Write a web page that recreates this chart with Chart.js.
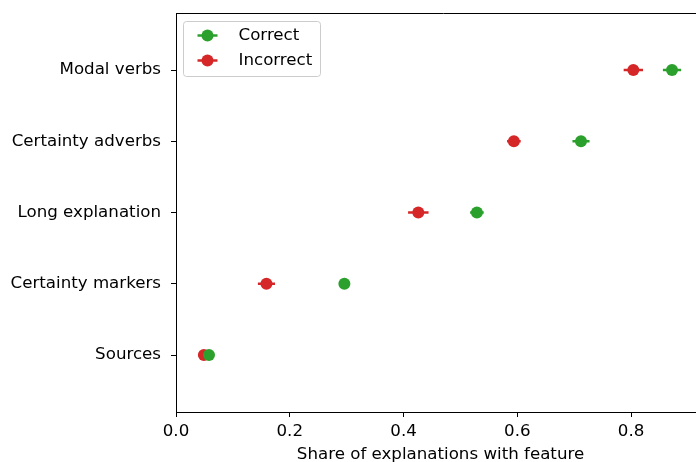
<!DOCTYPE html>
<html>
<head>
<meta charset="utf-8">
<script src="https://cdn.jsdelivr.net/npm/chart.js@4/dist/chart.umd.min.js"></script>
<style>
  html, body { margin: 0; padding: 0; background: #fff; overflow: hidden; }
  #wrap { width: 696px; height: 462px; overflow: hidden; }
</style>
</head>
<body>
<!-- the axes run on past the right edge, so the canvas is a little wider than the view -->
<div id="wrap"><canvas id="featureChart" width="711" height="462"></canvas></div>
<script>
const features = ['Modal verbs', 'Certainty adverbs', 'Long explanation', 'Certainty markers', 'Sources'];
const correctShare = [0.872, 0.712, 0.529, 0.296, 0.058];
const correctErr = [0.016, 0.015, 0.012, 0.007, 0.005];
const incorrectShare = [0.804, 0.594, 0.426, 0.159, 0.049];
const incorrectErr = [0.017, 0.012, 0.018, 0.015, 0.005];
const xTicks = [0.0, 0.2, 0.4, 0.6, 0.8];

const GREEN = '#2ca02c';
const RED = '#d62728';
const FONT = "'DejaVu Sans', sans-serif";
const FONT_SIZE = 16.67;

const series = [
  { label: 'Correct', values: correctShare, err: correctErr, color: GREEN },
  { label: 'Incorrect', values: incorrectShare, err: incorrectErr, color: RED },
];

// horizontal error bars behind the dots
const errorBars = {
  id: 'errorBars',
  beforeDatasetsDraw(chart) {
    const { ctx, scales: { x } } = chart;
    ctx.save();
    ctx.lineWidth = 2.5;
    chart.data.datasets.forEach((ds, i) => {
      const meta = chart.getDatasetMeta(i);
      ctx.strokeStyle = ds.borderColor;
      meta.data.forEach((pt, j) => {
        const v = ds.data[j].x, e = ds.errors[j];
        ctx.beginPath();
        ctx.moveTo(x.getPixelForValue(v - e), pt.y);
        ctx.lineTo(x.getPixelForValue(v + e), pt.y);
        ctx.stroke();
      });
    });
    ctx.restore();
  }
};

// top spine + boxed legend in the upper left
const frameAndLegend = {
  id: 'frameAndLegend',
  afterDraw(chart) {
    const { ctx, chartArea: a } = chart;
    ctx.save();
    ctx.strokeStyle = '#000';
    ctx.lineWidth = 1;
    ctx.beginPath();
    ctx.moveTo(a.left, a.top + 0.5);
    ctx.lineTo(chart.width, a.top + 0.5);
    ctx.stroke();

    const bx = a.left + 7.5, by = a.top + 8.5, bw = 137, bh = 55;
    ctx.beginPath();
    ctx.roundRect(bx, by, bw, bh, 3);
    ctx.fillStyle = 'rgba(255,255,255,0.8)';
    ctx.fill();
    ctx.strokeStyle = '#cccccc';
    ctx.stroke();

    ctx.font = FONT_SIZE + 'px ' + FONT;
    ctx.textBaseline = 'middle';
    series.forEach((s, i) => {
      const cy = by + 14 + i * 25;
      const cx = bx + 24;
      ctx.strokeStyle = s.color;
      ctx.lineWidth = 2.5;
      ctx.beginPath();
      ctx.moveTo(cx - 10, cy);
      ctx.lineTo(cx + 10, cy);
      ctx.stroke();
      ctx.fillStyle = s.color;
      ctx.beginPath();
      ctx.arc(cx, cy, 6, 0, Math.PI * 2);
      ctx.fill();
      ctx.fillStyle = '#000';
      ctx.fillText(s.label, bx + 55, cy);
    });
    ctx.restore();
  }
};

new Chart(document.getElementById('featureChart'), {
  type: 'scatter',
  data: {
    datasets: series.map(s => ({
      label: s.label,
      data: s.values.map((v, i) => ({ x: v, y: i })),
      errors: s.err,
      backgroundColor: s.color,
      borderColor: s.color,
      borderWidth: 0,
      pointRadius: 6,
      pointHoverRadius: 6,
    }))
  },
  options: {
    responsive: false,
    animation: false,
    layout: { padding: { top: 13, right: 0, left: 0, bottom: 0 } },
    plugins: { legend: { display: false }, tooltip: { enabled: false } },
    scales: {
      x: {
        type: 'linear',
        min: 0,
        max: 0.930,
        afterBuildTicks: scale => { scale.ticks = xTicks.map(v => ({ value: v })); },
        afterFit: scale => {
          scale.height = 50;
          scale.paddingLeft = 0;
          scale.paddingRight = 0;
        },
        ticks: {
          color: '#000',
          padding: 5,
          maxRotation: 0,
          font: { family: FONT, size: FONT_SIZE },
          callback: v => v.toFixed(1),
        },
        grid: { drawOnChartArea: false, color: '#000', tickLength: 5 },
        border: { color: '#000', width: 1 },
        title: {
          display: true,
          text: 'Share of explanations with feature',
          color: '#000',
          padding: { top: 0, bottom: -3 },
          font: { family: FONT, size: FONT_SIZE },
        },
      },
      y: {
        type: 'linear',
        reverse: true,
        min: -0.8,
        max: 4.8,
        afterBuildTicks: scale => { scale.ticks = features.map((_, i) => ({ value: i })); },
        afterFit: scale => {
          scale.width = 176;
          scale.paddingTop = 0;
          scale.paddingBottom = 0;
        },
        ticks: {
          color: '#000',
          padding: 10,
          font: { family: FONT, size: FONT_SIZE },
          callback: v => features[v],
        },
        grid: { drawOnChartArea: false, color: '#000', tickLength: 5 },
        border: { color: '#000', width: 1 },
      },
    },
  },
  plugins: [errorBars, frameAndLegend],
});
</script>
</body>
</html>
